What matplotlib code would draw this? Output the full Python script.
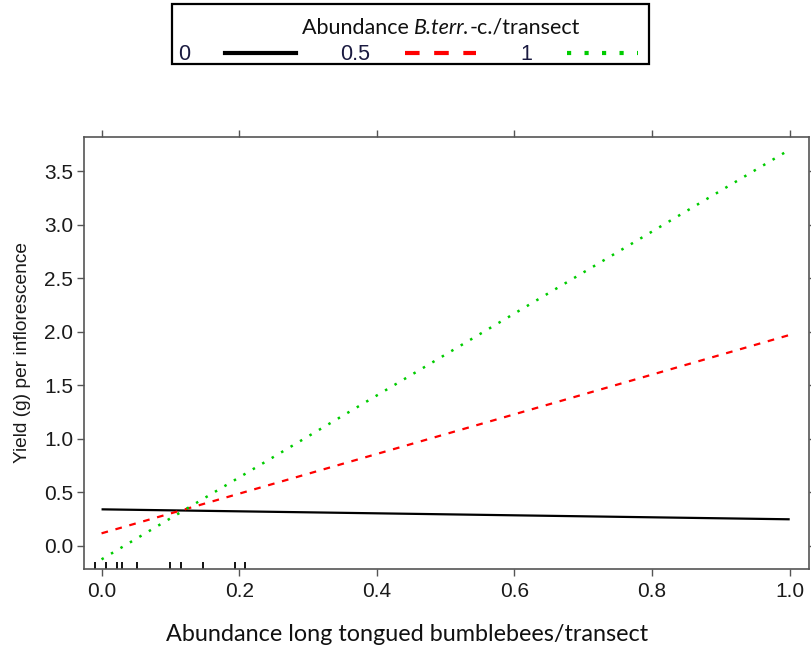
import matplotlib
matplotlib.use('Agg')
import matplotlib.pyplot as plt
from matplotlib.lines import Line2D
from matplotlib.patches import Rectangle

# effect lines at abundance of B. terrestris-complex per transect
x_ends = [0.0, 1.0]
yield_0 = [0.342, 0.249]
yield_05 = [0.118, 1.97]
yield_1 = [-0.125, 3.70]
levels = ['0', '0.5', '1']

# observed long tongued bumblebee abundances (rug)
rug_x = [-0.010, 0.006, 0.022, 0.029, 0.052, 0.099, 0.115, 0.147, 0.194, 0.209]

xticks = [0.0, 0.2, 0.4, 0.6, 0.8, 1.0]
yticks = [0.0, 0.5, 1.0, 1.5, 2.0, 2.5, 3.0, 3.5]

W, H = 811, 648
fig = plt.figure(figsize=(W / 100, H / 100), dpi=100)
ax = fig.add_axes([0.104, 0.1219, 0.8935, 0.6671])

ax.plot(x_ends, yield_0, color='black', lw=1.6, solid_capstyle='butt')
ax.plot(x_ends, yield_05, color='#ff0000', lw=1.6, dashes=(3, 3.5))
ax.plot(x_ends, yield_1, color='#00cc00', lw=1.8, dashes=(1, 3.4))

ax.vlines(rug_x, 0, 0.017, transform=ax.get_xaxis_transform(), color='black', lw=1.3)

ax.set_xlim(-0.025, 1.028)
ax.set_ylim(-0.215, 3.82)
ax.set_xticks(xticks)
ax.set_xticklabels([f'{v:.1f}' for v in xticks])
ax.set_yticks(yticks)
ax.set_yticklabels([f'{v:.1f}' for v in yticks])
ax.tick_params(direction='out', length=5, width=1, color='#555555',
               labelsize=15, labelcolor='#1a1a1a',
               top=True, right=True, labeltop=False, labelright=False)
ax.tick_params(axis='x', pad=4)
ax.tick_params(axis='y', pad=3)
for lab in ax.get_xticklabels() + ax.get_yticklabels():
    lab.set_family('Liberation Sans')
for sp in ax.spines.values():
    sp.set_color('#555555')
    sp.set_linewidth(1.2)

ax.set_ylabel('Yield (g) per inflorescence', fontsize=13.8, family='Liberation Sans',
              color='#1a1a1a', labelpad=9)
ax.set_xlabel('Abundance long tongued bumblebees/transect', fontsize=16.8, family='Lato',
              color='#111111', labelpad=12)
ax.xaxis.set_label_coords(0.445, -0.128)

# legend box at the top
box = Rectangle((172.3 / W, 1 - 64.3 / H), (649 - 172.3) / W, 60.3 / H,
                transform=fig.transFigure, fill=False, edgecolor='black', lw=1.6)
fig.patches.append(box)

handles = [
    Line2D([], [], color='black', lw=3),
    Line2D([], [], color='#ff0000', lw=3, dashes=(3.5, 3.5)),
    Line2D([], [], color='#00cc00', lw=3, dashes=(1, 3.2)),
]
leg = fig.legend(handles, levels, ncol=3, markerfirst=False, mode='expand',
                 bbox_to_anchor=(178 / W, 1 - 65 / H, (638 - 178) / W, 20 / H),
                 loc='center', frameon=False,
                 handlelength=3.3, handletextpad=1.6, columnspacing=1.0,
                 borderpad=0.0, borderaxespad=0.0,
                 prop={'family': 'Liberation Sans', 'size': 15.5})
for t in leg.get_texts():
    t.set_color('#1a1a40')

# title of the legend, with the species name in italics
parts = [('Abundance ', 'normal'), ('B.terr.', 'italic'), ('-c./transect', 'normal')]
renderer = fig.canvas.get_renderer()
pieces = [fig.text(0, 1 - 28 / H, s, style=st, family='Lato', fontsize=15.5,
                   va='center', ha='left', color='#111111') for s, st in parts]
widths = [p.get_window_extent(renderer).width for p in pieces]
x0 = 441 - sum(widths) / 2
for p, w in zip(pieces, widths):
    p.set_x(x0 / W)
    x0 += w

fig.savefig('out.png', dpi=100)
